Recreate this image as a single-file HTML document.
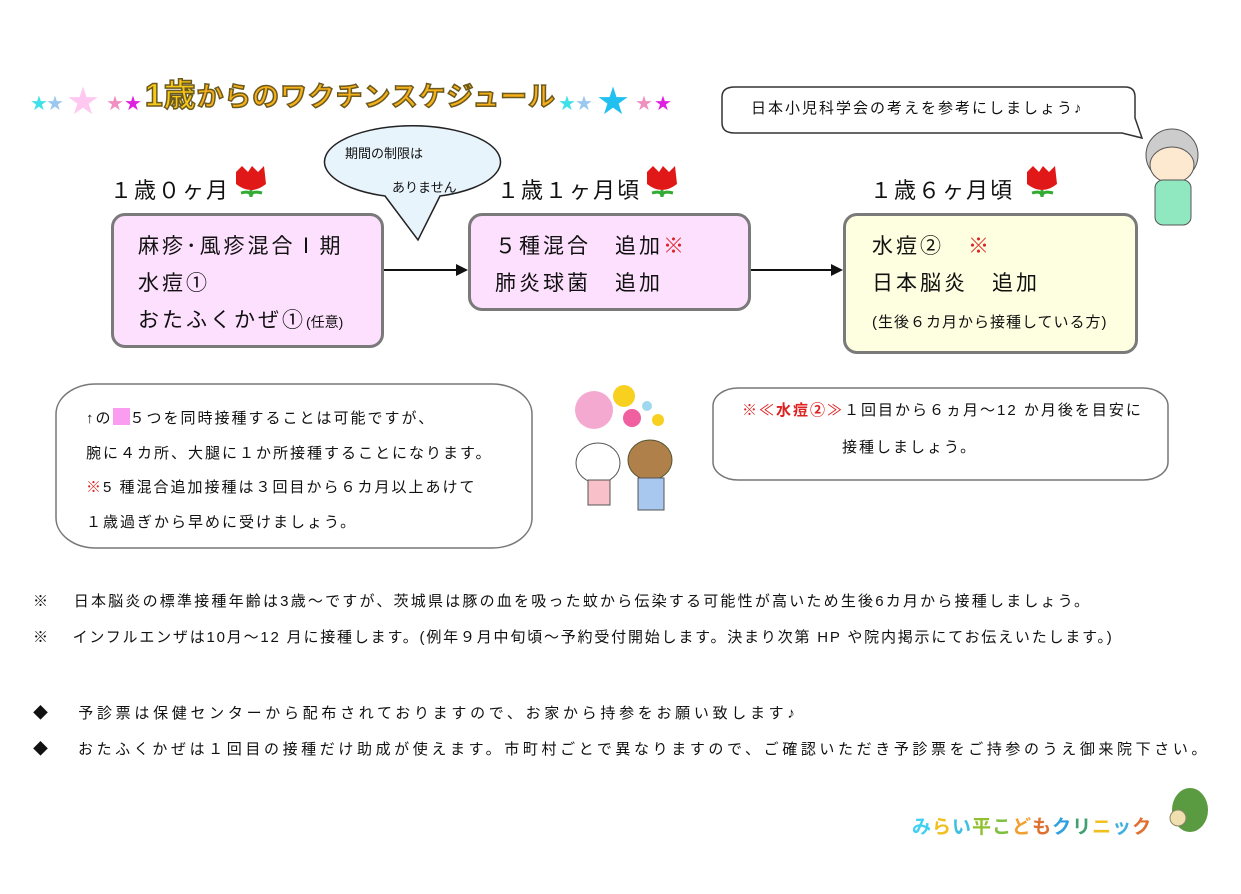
<!DOCTYPE html>
<html><head><meta charset="utf-8"><style>
body{margin:0;width:1241px;height:894px;background:#fff;position:relative;overflow:hidden;font-family:"Liberation Sans","Noto Sans CJK JP",sans-serif;color:#111}
.a{position:absolute;white-space:nowrap}
.box{position:absolute;border:3px solid #7a7a7a;border-radius:14px;box-sizing:border-box}
.big{font-size:21px;line-height:37px;letter-spacing:3px}
.red{color:#d22}
.f{font-size:15px;letter-spacing:2px}
</style></head><body>
<svg class="a" style="left:0;top:0" width="1241" height="894">
<g font-family="DejaVu Sans" font-size="20">
<text x="30" y="110" fill="#40e0e8">★</text><text x="46" y="110" fill="#9cc8f0">★</text>
<text x="66" y="114" fill="#ffc8f0" font-size="38">★</text><text x="106" y="110" fill="#f090c0">★</text><text x="124" y="110" fill="#e020e0">★</text>
<text x="558" y="110" fill="#40e0e8">★</text><text x="575" y="110" fill="#9cc8f0">★</text>
<text x="596" y="114" fill="#20c0f0" font-size="38">★</text><text x="635" y="110" fill="#f090c0">★</text><text x="654" y="110" fill="#e020e0">★</text>
</g>
<text x="145" y="106" font-size="32" font-weight="bold" fill="#f8c818" stroke="#6a5a20" stroke-width="1.5" font-family="Liberation Sans,Noto Sans CJK JP,sans-serif" textLength="410">1歳<tspan font-size="27" fill="#f8b018">からのワクチンスケジュール</tspan></text>
<path d="M735,87 L1125,87 Q1135,87 1135,97 L1135,118 L1142,138 L1122,133 L735,133 Q722,133 722,123 L722,97 Q722,87 735,87Z" fill="#fff" stroke="#333" stroke-width="1.5"/>
<path d="M385,196 A88,36 0 1 1 440,196 L418,240 Z" fill="#e8f4fc" stroke="#222" stroke-width="1.5"/>
<line x1="383" y1="270" x2="458" y2="270" stroke="#111" stroke-width="2"/><polygon points="468,270 456,264 456,276" fill="#111"/>
<line x1="750" y1="270" x2="833" y2="270" stroke="#111" stroke-width="2"/><polygon points="843,270 831,264 831,276" fill="#111"/>
<rect x="56" y="384" width="476" height="164" rx="40" ry="30" fill="#fff" stroke="#777" stroke-width="1.5"/>
<rect x="713" y="388" width="455" height="92" rx="25" ry="18" fill="#fff" stroke="#777" stroke-width="1.5"/>
<g id="t"><path d="M236,172 L242,166 L248,172 L252,166 L258,172 L264,166 L266,184 Q251,196 236,184Z" fill="#e01818"/><path d="M251,190 L251,197 M241,193 Q251,190 251,197 Q251,190 262,193" stroke="#3a3" stroke-width="3" fill="none"/></g>
<use href="#t" x="411" y="0"/><use href="#t" x="791" y="0"/>
<circle cx="594" cy="410" r="19" fill="#f4aad0"/><circle cx="624" cy="396" r="11" fill="#f8d020"/><circle cx="647" cy="406" r="5" fill="#a0d8f0"/>
<circle cx="632" cy="418" r="9" fill="#f060a0"/><circle cx="658" cy="420" r="6" fill="#f8d020"/>
<ellipse cx="598" cy="463" rx="22" ry="20" fill="#fff" stroke="#555"/><rect x="588" y="480" width="22" height="25" fill="#f8c0c8" stroke="#555"/>
<ellipse cx="650" cy="460" rx="22" ry="20" fill="#b0804a" stroke="#553"/><rect x="638" y="478" width="26" height="32" fill="#a8c8f0" stroke="#555"/>
<circle cx="1172" cy="155" r="26" fill="#ccc" stroke="#555"/><ellipse cx="1172" cy="165" rx="22" ry="18" fill="#fde8d0" stroke="#555"/>
<rect x="1155" y="180" width="36" height="45" rx="8" fill="#90e8c0" stroke="#555"/>
<ellipse cx="1190" cy="810" rx="18" ry="22" fill="#5a9a40"/><circle cx="1178" cy="818" r="8" fill="#f0e0b0" stroke="#886"/>
</svg>
<div class="a" style="left:751px;top:97px;font-size:15px;letter-spacing:2px">日本小児科学会の考えを参考にしましょう♪</div>
<div class="a" style="left:345px;top:143px;font-size:13px">期間の制限は</div>
<div class="a" style="left:392px;top:177px;font-size:13px">ありません</div>
<div class="a" style="left:110px;top:173px;font-size:22px;letter-spacing:2px">１歳０ヶ月</div>
<div class="a" style="left:497px;top:173px;font-size:22px;letter-spacing:2px">１歳１ヶ月頃</div>
<div class="a" style="left:870px;top:173px;font-size:22px;letter-spacing:2px">１歳６ヶ月頃</div>
<div class="box" style="left:111px;top:213px;width:273px;height:135px;background:#fde0fd"><div class="big" style="padding:12px 0 0 24px">麻疹･風疹混合Ⅰ期<br>水痘①<br>おたふくかぜ①<span style="font-size:14px;letter-spacing:0">(任意)</span></div></div>
<div class="box" style="left:468px;top:213px;width:283px;height:98px;background:#fde0fd"><div class="big" style="padding:12px 0 0 24px">５種混合　追加<span class="red">※</span><br>肺炎球菌　追加</div></div>
<div class="box" style="left:843px;top:213px;width:295px;height:141px;background:#fefee0"><div class="big" style="padding:12px 0 0 26px">水痘②　<span class="red">※</span><br>日本脳炎　追加<br><span style="font-size:15px;letter-spacing:1px">(生後６カ月から接種している方)</span></div></div>
<div class="a f" style="left:86px;top:402px;line-height:34.5px">↑の<span style="display:inline-block;width:17px;height:17px;background:#fa9cf0;vertical-align:-2px"></span>５つを同時接種することは可能ですが、<br>腕に４カ所、大腿に１か所接種することになります。<br><span class="red">※</span>5 種混合追加接種は３回目から６カ月以上あけて<br>１歳過ぎから早めに受けましょう。</div>
<div class="a f" style="left:742px;top:399px"><span class="red">※≪<b>水痘②</b>≫</span>１回目から６ヵ月～12 か月後を目安に</div>
<div class="a f" style="left:842px;top:436px">接種しましょう。</div>
<div class="a f" style="left:33px;top:590px;letter-spacing:2.2px">※　 日本脳炎の標準接種年齢は3歳～ですが、茨城県は豚の血を吸った蚊から伝染する可能性が高いため生後6カ月から接種しましょう。</div>
<div class="a f" style="left:33px;top:626px;letter-spacing:1.8px">※　 インフルエンザは10月～12 月に接種します。(例年９月中旬頃～予約受付開始します。決まり次第 HP や院内掲示にてお伝えいたします。)</div>
<div class="a f" style="left:33px;top:702px;letter-spacing:3.7px">◆　 予診票は保健センターから配布されておりますので、お家から持参をお願い致します♪</div>
<div class="a f" style="left:33px;top:738px;letter-spacing:3.6px">◆　 おたふくかぜは１回目の接種だけ助成が使えます。市町村ごとで異なりますので、ご確認いただき予診票をご持参のうえ御来院下さい。</div>
<div class="a" style="left:912px;top:812px;font-size:19px;font-weight:bold;letter-spacing:1px"><span style="color:#40d0f0">み</span><span style="color:#f0c020">ら</span><span style="color:#40c0e0">い</span><span style="color:#90c030">平</span><span style="color:#80c040">こ</span><span style="color:#f0a030">ど</span><span style="color:#e07030">も</span><span style="color:#30a0e0">ク</span><span style="color:#40a070">リ</span><span style="color:#f0c020">ニ</span><span style="color:#40b0e0">ッ</span><span style="color:#e07030">ク</span></div>
</body></html>
